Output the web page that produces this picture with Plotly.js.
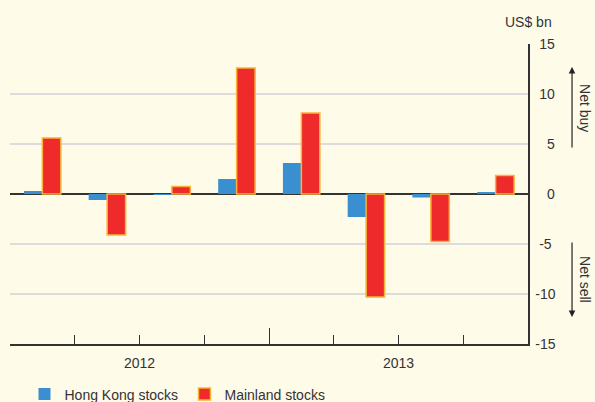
<!DOCTYPE html>
<html>
<head>
<meta charset="utf-8">
<script src="https://cdn.plot.ly/plotly-3.0.1.min.js"></script>
<style>html,body{margin:0;padding:0;background:#fffbe9;}#chart{width:595px;height:402px;}</style>
</head>
<body>
<div id="chart"></div>
<script>
// Quarters Q1 2012 .. Q4 2013
var quarters = [0, 1, 2, 3, 4, 5, 6, 7];
var hongKong = [0.3, -0.6, -0.1, 1.5, 3.1, -2.3, -0.35, 0.2];
var mainland = [5.6, -4.1, 0.75, 12.6, 8.1, -10.3, -4.75, 1.85];
var boundaryTicks = [-0.5, 0.5, 1.5, 2.5, 4.5, 5.5, 6.5, 7.5];
var boundaryText = ['', '', '2012', '', '', '2013', '', ''];
var yearBoundary = [3.5];
var yTicks = [-15, -10, -5, 0, 5, 10, 15];
var yTickText = ['-15', '-10', '\u2008-5', '\u2007\u20080', '\u2007\u20085', '\u200810', '\u200815'];

var font = 'Liberation Sans, Arial, Helvetica, sans-serif';
var ink = '#333333';

var traces = [
  {type: 'bar', name: 'Hong Kong stocks', x: quarters, y: hongKong,
   marker: {color: '#3a8fd0', line: {width: 0}}, hoverinfo: 'y'},
  {type: 'bar', name: 'Mainland stocks', x: quarters, y: mainland,
   marker: {color: '#ee2a2a', line: {color: '#f7b436', width: 1.5}}, hoverinfo: 'y'}
];

var layout = {
  width: 595, height: 402,
  paper_bgcolor: '#fffbe9', plot_bgcolor: '#fffbe9',
  margin: {l: 10, r: 67, t: 44, b: 58, autoexpand: false},
  font: {family: font, size: 14, color: ink},
  barmode: 'group', bargap: 0.43, bargroupgap: 0,
  showlegend: true,
  legend: {orientation: 'h', x: 0.028, y: -0.115, xanchor: 'left', yanchor: 'top',
           bgcolor: 'rgba(0,0,0,0)', font: {family: font, size: 14, color: ink},
           entrywidth: 115, entrywidthmode: 'pixels', itemclick: false},
  xaxis: {type: 'linear', range: [-0.5, 7.5], showgrid: false, zeroline: false,
          showline: true, linecolor: ink, linewidth: 1.5,
          tickmode: 'array', tickvals: boundaryTicks, ticktext: boundaryText,
          ticks: 'inside', ticklen: 9, tickwidth: 1.2, tickcolor: ink,
          ticklabelstandoff: 6,
          minor: {tickmode: 'array', tickvals: yearBoundary, ticks: 'inside', ticklen: 16, tickwidth: 1, tickcolor: ink, showgrid: false},
          tickfont: {family: font, size: 14, color: ink}, fixedrange: true},
  yaxis: {side: 'right', range: [-15, 15], tickmode: 'array', tickvals: yTicks, ticktext: yTickText,
          showgrid: true, gridcolor: '#dcdcdc', gridwidth: 2,
          zeroline: true, zerolinecolor: ink, zerolinewidth: 1.5,
          showline: true, linecolor: ink, linewidth: 1.5, ticks: '',
          ticklabelstandoff: 3,
          tickfont: {family: font, size: 14, color: ink}, fixedrange: true},
  annotations: [
    {xref: 'paper', yref: 'paper', x: 1, y: 1, yshift: 22, xanchor: 'center', yanchor: 'middle',
     text: 'US$ bn', showarrow: false, font: {family: font, size: 14, color: ink}},
    {xref: 'paper', yref: 'y', x: 1.085, y: 12.7, text: '', showarrow: true,
     axref: 'pixel', ayref: 'pixel', ax: 0, ay: 82, arrowhead: 2, arrowsize: 1.1, arrowwidth: 1.2, arrowcolor: '#222'},
    {xref: 'paper', yref: 'y', x: 1.085, y: -12.3, text: '', showarrow: true,
     axref: 'pixel', ayref: 'pixel', ax: 0, ay: -76, arrowhead: 2, arrowsize: 1.1, arrowwidth: 1.2, arrowcolor: '#222'},
    {xref: 'paper', yref: 'y', x: 1.110, y: 8.6, text: 'Net buy', textangle: 90, showarrow: false,
     xanchor: 'center', yanchor: 'middle', font: {family: font, size: 14, color: ink}},
    {xref: 'paper', yref: 'y', x: 1.110, y: -8.6, text: 'Net sell', textangle: 90, showarrow: false,
     xanchor: 'center', yanchor: 'middle', font: {family: font, size: 14, color: ink}}
  ]
};

Plotly.newPlot('chart', traces, layout, {displayModeBar: false, staticPlot: true});
</script>
</body>
</html>
